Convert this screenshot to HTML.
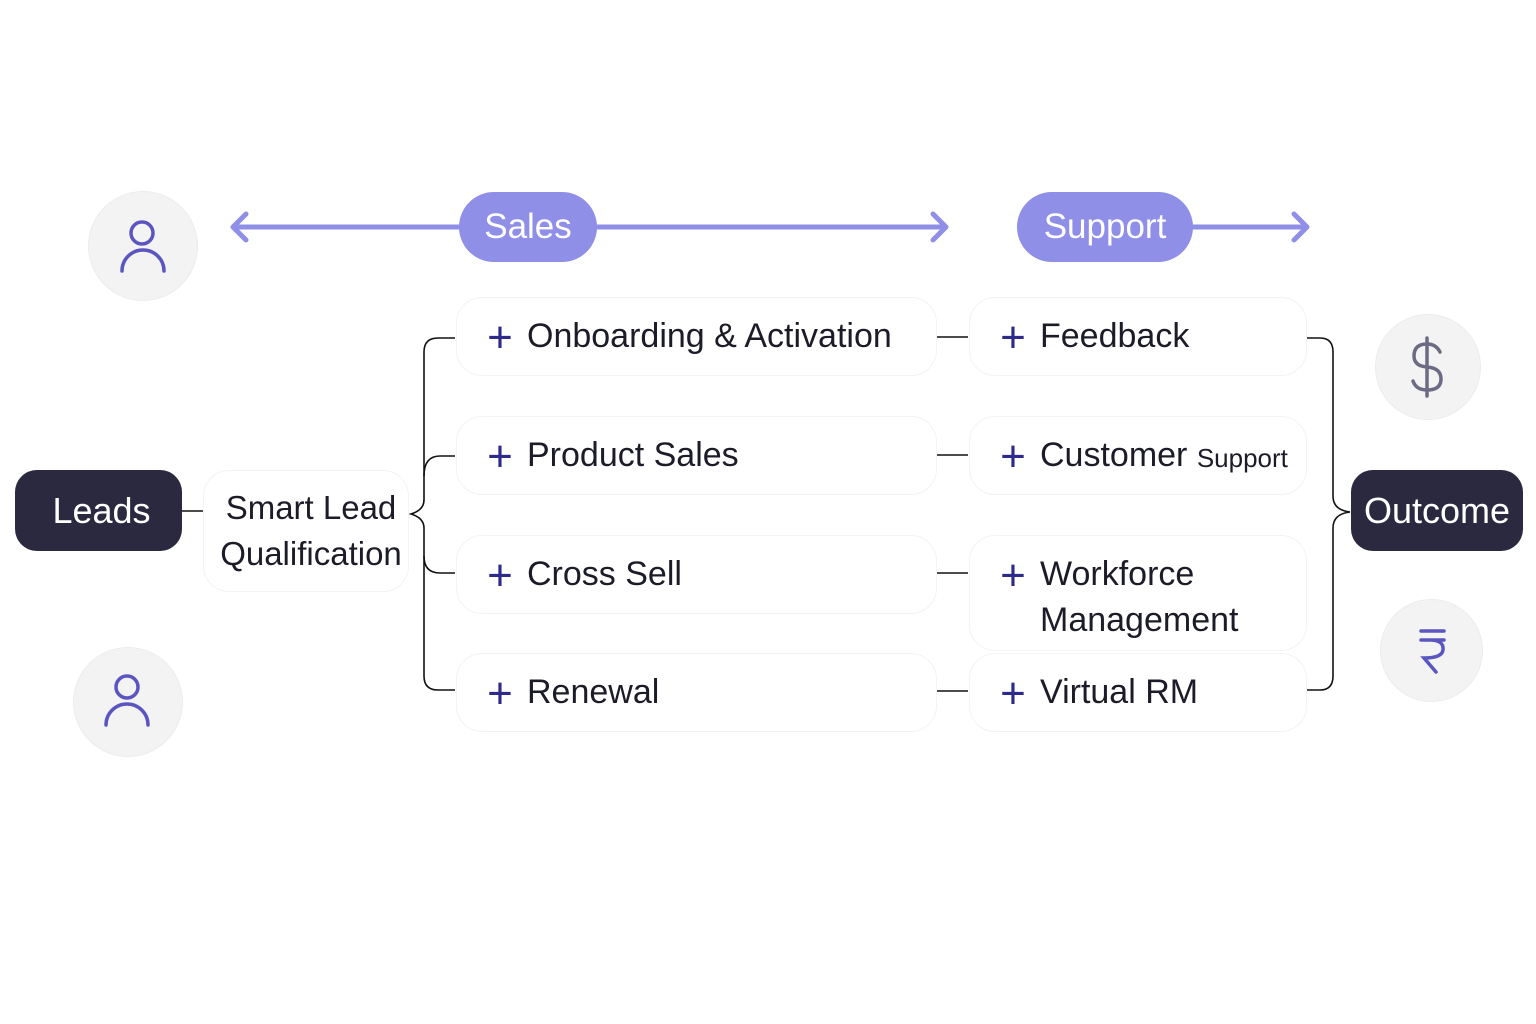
<!DOCTYPE html>
<html><head><meta charset="utf-8"><style>
body{margin:0;width:1536px;height:1024px;background:#fff;position:relative;overflow:hidden;font-family:"Liberation Sans",sans-serif}
.a{position:absolute}
.card{position:absolute;background:#fff;border:1px solid #f3f3f6;border-radius:26px;box-sizing:border-box;font-size:34px;color:#1c1c28;display:flex;align-items:center}
.card .p{color:#2d2a8c;font-size:44px;font-weight:300;width:34px;margin:0 10px 0 26px;line-height:1;text-align:center;position:relative;top:1px}
.dark{position:absolute;background:#2a2940;color:#fff;border-radius:22px;font-size:36px;display:flex;align-items:center;justify-content:center}
.pill{position:absolute;background:#8f8fe8;color:#fff;border-radius:35px;font-size:35px;display:flex;align-items:center;justify-content:center}
.circ{position:absolute;border-radius:50%;background:#f3f3f4;border:1px solid #ececee}
</style></head><body>
<svg class="a" style="left:0;top:0" width="1536" height="1024">
<g stroke="#8f8fe8" stroke-width="5" fill="none" stroke-linecap="round" stroke-linejoin="round">
<line x1="234" y1="227" x2="945" y2="227"/><polyline points="246,214 233,227 246,240"/><polyline points="933,214 946,227 933,240"/>
<line x1="1190" y1="227" x2="1306" y2="227"/><polyline points="1294,214 1307,227 1294,240"/>
</g>
<g stroke="#111" stroke-width="1.6" fill="none">
<line x1="182" y1="511" x2="203" y2="511"/>
<path d="M455,338 H438 Q424,338 424,352 V500 Q424,510 411,514 Q424,518 424,528 V676 Q424,690 438,690 H455"/>
<path d="M455,456 H440 Q424,456 424,476"/><path d="M455,573 H440 Q424,573 424,556"/>
<line x1="937" y1="337" x2="968" y2="337"/><line x1="937" y1="455" x2="968" y2="455"/><line x1="937" y1="573" x2="968" y2="573"/><line x1="937" y1="691" x2="968" y2="691"/>
<path d="M1307,338 H1320 Q1333,338 1333,352 V496 Q1333,510 1350,512 Q1333,514 1333,528 V676 Q1333,690 1320,690 H1307"/>
</g>
</svg>
<div class="pill" style="left:459px;top:192px;width:138px;height:70px">Sales</div>
<div class="pill" style="left:1017px;top:192px;width:176px;height:70px">Support</div>
<div class="circ" style="left:88px;top:191px;width:108px;height:108px"></div>
<div class="circ" style="left:73px;top:647px;width:108px;height:108px"></div>
<div class="circ" style="left:1375px;top:314px;width:104px;height:104px"></div>
<div class="circ" style="left:1380px;top:599px;width:101px;height:101px"></div>
<svg class="a" style="left:0;top:0" width="1536" height="1024">
<g stroke="#5a55c0" stroke-width="3.5" fill="none" stroke-linecap="round">
<circle cx="142" cy="233" r="11"/><path d="M122,271 A21,21 0 0 1 164,271"/>
<circle cx="127" cy="687" r="11"/><path d="M106,725 A21,21 0 0 1 148,725"/>
<path d="M1421,631 H1444 M1421,640 H1444 M1430,640 Q1444,640 1443,650 Q1442,658 1424,658 L1436,672"/>
</g>
<g stroke="#6b6b85" stroke-width="3.5" fill="none" stroke-linecap="round">
<path d="M1427,338 V396 M1440,352 Q1436,344 1427,344 Q1414,344 1414,356 Q1414,366 1427,367 Q1441,368 1441,379 Q1441,390 1427,390 Q1416,390 1413,381"/>
</g>
</svg>
<div class="dark" style="left:15px;top:470px;width:167px;height:81px;padding-left:6px;box-sizing:border-box">Leads</div>
<div class="dark" style="left:1351px;top:470px;width:172px;height:81px">Outcome</div>
<div class="card" style="left:203px;top:470px;width:206px;height:122px;justify-content:center;text-align:center;font-size:33px;line-height:46px;padding-left:10px">Smart Lead<br>Qualification</div>
<div class="card" style="left:456px;top:297px;width:481px;height:79px"><span class="p">+</span>Onboarding &amp; Activation</div>
<div class="card" style="left:456px;top:416px;width:481px;height:79px"><span class="p">+</span>Product Sales</div>
<div class="card" style="left:456px;top:535px;width:481px;height:79px"><span class="p">+</span>Cross Sell</div>
<div class="card" style="left:456px;top:653px;width:481px;height:79px"><span class="p">+</span>Renewal</div>
<div class="card" style="left:969px;top:297px;width:338px;height:79px"><span class="p">+</span>Feedback</div>
<div class="card" style="left:969px;top:416px;width:338px;height:79px"><span class="p">+</span>Customer&nbsp;<span style="font-size:26px;position:relative;top:3px">Support</span></div>
<div class="card" style="left:969px;top:535px;width:338px;height:116px;align-items:flex-start;padding-top:15px;line-height:46px"><span class="p" style="top:3px">+</span><span>Workforce<br>Management</span></div>
<div class="card" style="left:969px;top:653px;width:338px;height:79px"><span class="p">+</span>Virtual RM</div>
</body></html>
